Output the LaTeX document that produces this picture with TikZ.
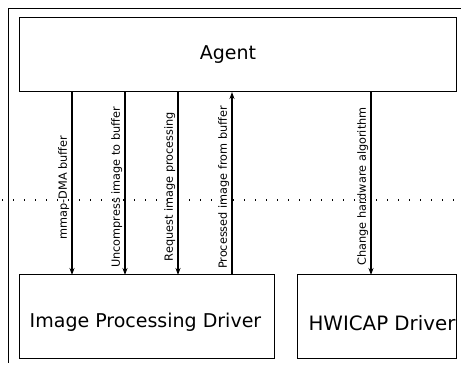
\documentclass[tikz,border=0pt]{standalone}
\usepackage{fontspec}
\setmainfont{DejaVu Sans}
\usetikzlibrary{arrows.meta}
\begin{document}
\begin{tikzpicture}[x=1pt,y=1pt,
  box/.style={draw,line width=0.9pt,anchor=south west,inner sep=0pt},
  big/.style={font=\fontsize{19}{22}\selectfont,inner sep=0pt},
  lab/.style={font=\fontsize{11.3}{13}\selectfont,rotate=90,anchor=south,inner sep=2.5pt,xshift=-1.5pt},
  msg/.style={line width=1.6pt,-{Stealth[length=7pt,width=5pt]}}]
\useasboundingbox (0,0) rectangle (461,367);
\draw[line width=0.9pt] (461,359) -- (8,359) -- (8,4);
\node[box,minimum width=437pt,minimum height=74pt] (agent) at (19,275) {};
\node[box,minimum width=255pt,minimum height=84pt] (ipd) at (19,8) {};
\node[box,minimum width=159pt,minimum height=84pt] (hw) at (297,8) {};
\node[big] (agentt) at (228,312) {Agent};
\node[big] (ipdt) at (145.5,45) {Image Processing Driver};
\node[big,font=\fontsize{19.8}{22}\selectfont] (hwt) at (382,44) {HWICAP Driver};
\draw[line width=1.1pt,dash pattern=on 1.1pt off 9.9pt] (2,167) -- (461,167);
\coordinate (a1t) at (72,275); \coordinate (a1b) at (72,92);
\coordinate (a2t) at (125,275); \coordinate (a2b) at (125,92);
\coordinate (a3t) at (178,275); \coordinate (a3b) at (178,92);
\coordinate (a4t) at (232,275); \coordinate (a4b) at (232,92);
\coordinate (a5t) at (371,275); \coordinate (a5b) at (371,92);
\draw[msg] (a1t) -- (a1b);
\draw[msg] (a2t) -- (a2b);
\draw[msg] (a3t) -- (a3b);
\draw[msg] (a4b) -- (a4t);
\draw[msg] (a5t) -- (a5b);
\node[lab] (l1) at (72,181) {mmap-DMA buffer};
\node[lab] (l2) at (125,181) {Uncompress image to buffer};
\node[lab] (l3) at (178,182) {Request image processing};
\node[lab] (l4) at (232,181) {Processed image from buffer};
\node[lab] (l5) at (371,182) {Change hardware algorithm};
\end{tikzpicture}
\end{document}
